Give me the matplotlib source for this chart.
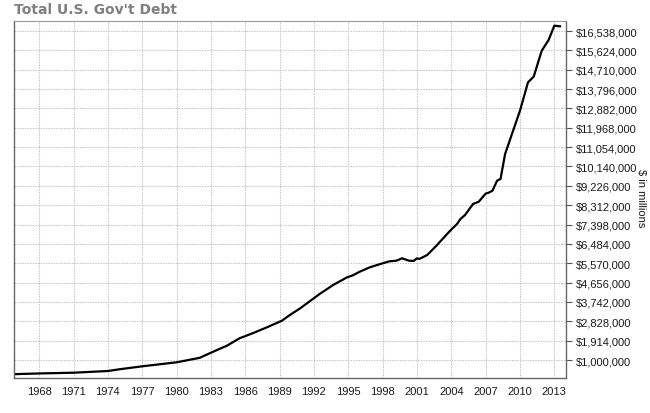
import matplotlib
matplotlib.use("Agg")
import matplotlib.pyplot as plt
from matplotlib.ticker import FuncFormatter

# data (decimal year, $ in millions)
years = [1965.8, 1968.0, 1971.0, 1974.0, 1975.0, 1977.0, 1980.0, 1982.0,
         1983.2, 1984.4, 1985.5, 1986.7, 1987.9, 1989.2, 1989.9, 1990.8,
         1991.7, 1992.5, 1993.7, 1994.9, 1995.4, 1996.0, 1996.9, 1997.8,
         1998.6, 1999.2, 1999.7, 2000.3, 2000.7, 2001.0, 2001.2, 2001.9,
         2002.7, 2003.9, 2004.5, 2004.8, 2005.2, 2005.9, 2006.4, 2007.0,
         2007.25, 2007.6, 2008.0, 2008.3, 2008.7, 2009.3, 2010.0, 2010.7,
         2011.2, 2011.9, 2012.5, 2013.0, 2013.5]
debt = [330000, 365000, 400000, 480000, 561000, 702000, 891000, 1100000,
        1392000, 1675000, 2025000, 2275000, 2545000, 2856000, 3126000, 3442000,
        3801000, 4118000, 4550000, 4906000, 5000000, 5171000, 5380000, 5535000,
        5662000, 5690000, 5804000, 5690000, 5680000, 5804000, 5770000, 5960000,
        6399000, 7107000, 7424000, 7660000, 7849000, 8369000, 8477000, 8860000,
        8900000, 9000000, 9470000, 9550000, 10731000, 11675000, 12776000, 14117000,
        14383000, 15610000, 16115000, 16791000, 16762000]

year_ticks = list(range(1968, 2014, 3))
debt_ticks = [1000000 + 914000 * k for k in range(18)]

fig = plt.figure(figsize=(6.5, 4.14), dpi=100)
ax = fig.add_axes([14 / 650, 1 - 379 / 414, 552 / 650, 357 / 414])

ax.plot(years, debt, color="black", linewidth=1.6)

ax.set_xlim(1965.8, 2014.02)
ax.set_ylim(150000, 17012000)

ax.set_xticks(year_ticks)
ax.set_yticks(debt_ticks)
ax.yaxis.tick_right()
ax.yaxis.set_major_formatter(FuncFormatter(lambda v, p: "${:,.0f}".format(v)))

ax.grid(True, color="#c8c8c8", linestyle=(0, (1.5, 1)), linewidth=0.75)
ax.tick_params(axis="x", length=0, pad=6, labelsize=8, labelcolor="#1a1a1a")
ax.tick_params(axis="y", length=4, width=0.8, color="#555555", pad=3,
               labelsize=8, labelcolor="#1a1a1a")
for lab in ax.get_xticklabels() + ax.get_yticklabels():
    lab.set_family("Liberation Sans")

for side in ["left", "bottom", "right"]:
    ax.spines[side].set_color("#666666")
    ax.spines[side].set_linewidth(1.0)
ax.spines["top"].set_color("#999999")
ax.spines["top"].set_linewidth(0.8)

fig.text(14 / 650, 1 - 10 / 414, "Total U.S. Gov't Debt", fontsize=10,
         fontweight="bold", color="#808080", va="center", ha="left",
         family="DejaVu Sans")
fig.text(641 / 650, 1 - 198 / 414, "$ in millions", rotation=270,
         fontsize=8, va="center", ha="center", color="#1a1a1a",
         family="Liberation Sans")

fig.savefig("out.png", dpi=100)
